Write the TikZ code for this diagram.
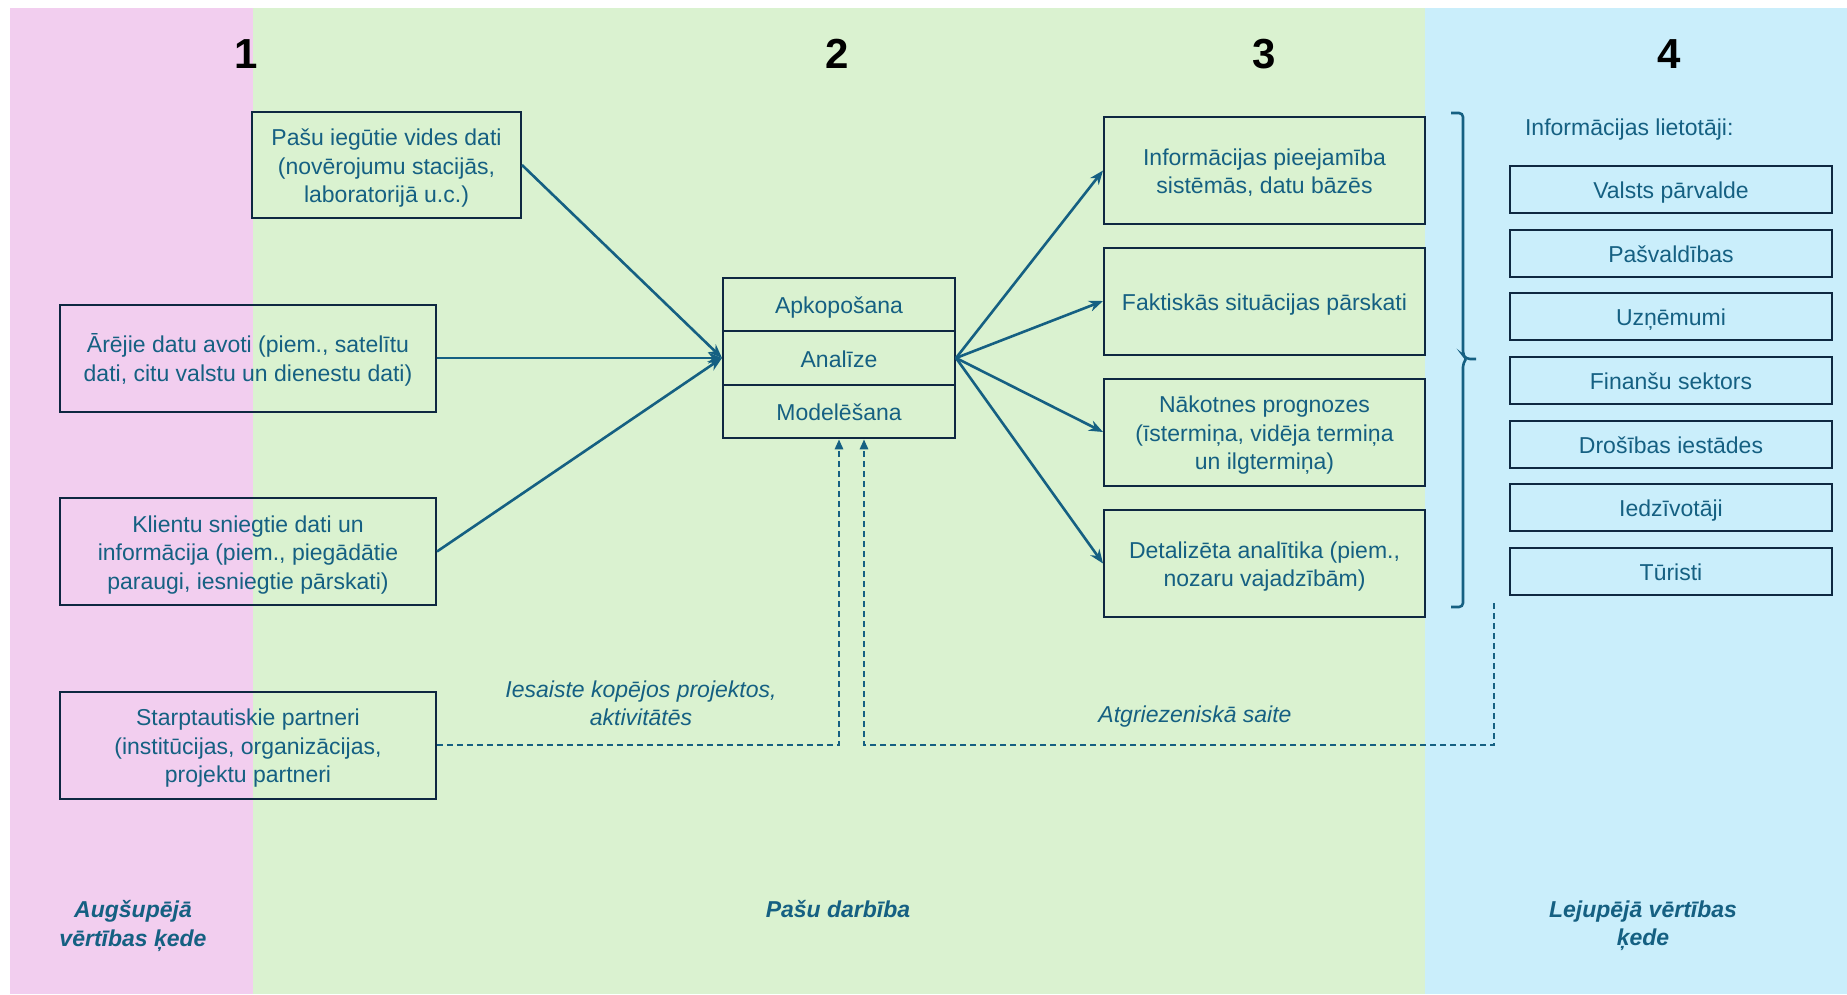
\documentclass[tikz,border=0pt]{standalone}
\usepackage{fontspec}
\setmainfont{Liberation Sans}
\usetikzlibrary{arrows.meta,calc}
\definecolor{pinkbg}{HTML}{F2CEEF}
\definecolor{greenbg}{HTML}{DAF2D0}
\definecolor{bluebg}{HTML}{CAEEFB}
\definecolor{txt}{HTML}{156082}
\definecolor{bord}{HTML}{0E2841}
\newcommand{\tstr}{\rule{0pt}{1.0em}}
\begin{document}
\begin{tikzpicture}[x=0.5pt,y=-0.5pt,
  every node/.style={font=\fontsize{11.5}{14.2}\selectfont, text=txt},
  box/.style={draw=bord, line width=1pt, align=center, inner sep=2pt,
    execute at begin node={\rule{0pt}{1.0em}},
    execute at end node={\rule[-0.2em]{0pt}{0.2em}}},
  srcbox/.style={box, minimum width=188pt, minimum height=53.5pt},
  midbox/.style={box, minimum width=116pt, minimum height=26.75pt},
  outbox/.style={box, minimum width=160.5pt, minimum height=53.5pt},
  userbox/.style={box, minimum width=161pt, minimum height=23.5pt},
  num/.style={font=\fontsize{21}{25}\selectfont\bfseries, text=black},
  lbl/.style={font=\fontsize{11.5}{14.2}\selectfont\itshape, align=center},
  zone/.style={font=\fontsize{11.5}{14.2}\selectfont\bfseries\itshape, align=center},
  flow/.style={draw=txt, line width=1.3pt, -{Stealth[length=7pt,width=5.5pt]}},
  dflow/.style={draw=txt, line width=1.3pt, dash pattern=on 3pt off 2pt, -{Triangle[length=5pt,width=4pt]}},
]
\useasboundingbox (0,0) rectangle (1847,995);
\fill[white] (0,0) rectangle (1847,995);
\fill[pinkbg] (10,8) rectangle (253,994);
\fill[greenbg] (253,8) rectangle (1425,994);
\fill[bluebg] (1425,8) rectangle (1847,994);

% column numbers
\node[num] (n1) at (246,54) {1};
\node[num] (n2) at (837,54) {2};
\node[num] (n3) at (1264,54) {3};
\node[num] (n4) at (1669,54) {4};

% sources
\node[box, minimum width=134.5pt, minimum height=53pt] (A) at (386.5,165)
  {\tstr Pašu iegūtie vides dati\\(novērojumu stacijās,\\laboratorijā u.c.)};
\node[srcbox] (B) at (248,358)
  {\tstr Ārējie datu avoti (piem., satelītu\\dati, citu valstu un dienestu dati)};
\node[srcbox] (C) at (248,551.5)
  {\tstr Klientu sniegtie dati un\\informācija (piem., piegādātie\\paraugi, iesniegtie pārskati)};
\node[srcbox] (D) at (248,745)
  {\tstr Starptautiskie partneri\\(institūcijas, organizācijas,\\projektu partneri};

% centre stack
\node[midbox] (apk) at (839,304.5) {Apkopošana};
\node[midbox] (ana) at (839,358) {Analīze};
\node[midbox] (mod) at (839,411.5) {Modelēšana};

% outputs
\node[outbox] (o1) at (1264.5,170.5) {\tstr Informācijas pieejamība\\sistēmās, datu bāzēs};
\node[outbox] (o2) at (1264.5,301) {Faktiskās situācijas pārskati};
\node[outbox] (o3) at (1264.5,432) {\tstr Nākotnes prognozes\\(īstermiņa, vidēja termiņa\\un ilgtermiņa)};
\node[outbox] (o4) at (1264.5,563.5) {\tstr Detalizēta analītika (piem.,\\nozaru vajadzībām)};

% users
\node[anchor=west] (ut) at (1518,130) {Informācijas lietotāji:};
\node[userbox] (u1) at (1671,189.5) {Valsts pārvalde};
\node[userbox] (u2) at (1671,253.2) {Pašvaldības};
\node[userbox] (u3) at (1671,316.8) {Uzņēmumi};
\node[userbox] (u4) at (1671,380.5) {Finanšu sektors};
\node[userbox] (u5) at (1671,444.2) {Drošības iestādes};
\node[userbox] (u6) at (1671,507.8) {Iedzīvotāji};
\node[userbox] (u7) at (1671,571.5) {Tūristi};

% bracket
\coordinate (bt) at (1451,113);
\coordinate (bm) at (1476,359);
\coordinate (bb) at (1451,607);
\draw[txt, line width=1.3pt, rounded corners=2pt] (bt) -| (1463,355) -- (1466,359) -- (bm);
\draw[txt, line width=1.3pt, rounded corners=2pt] (bb) -| (1463,363) -- (1466,359);

% flows in
\draw[flow] (A.east) -- (ana.west);
\draw[flow] (B.east) -- (ana.west);
\draw[flow] (C.east) -- (ana.west);
% flows out
\draw[flow] (ana.east) -- (o1.west);
\draw[flow] (ana.east) -- (o2.west);
\draw[flow] (ana.east) -- (o3.west);
\draw[flow] (ana.east) -- (o4.west);

% dashed links
\draw[dflow] (D.east) -| (mod.south);
\coordinate (fb) at (1494,603);
\draw[dflow] (fb) -- (fb |- D.east) -| ([xshift=12.5pt]mod.south);

% labels
\node[lbl] (l1) at (641,703) {Iesaiste kopējos projektos,\\aktivitātēs};
\node[lbl] (l2) at (1195,717) {Atgriezeniskā saite};
\node[zone] (z1) at (133,926) {Augšupējā\\vērtības ķede};
\node[zone] (z2) at (838,909) {Pašu darbība};
\node[zone] (z3) at (1643,926) {Lejupējā vērtības\\ķede};
\end{tikzpicture}
\end{document}
